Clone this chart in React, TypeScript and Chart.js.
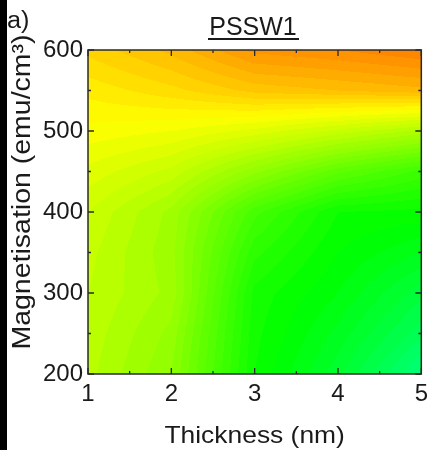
import React, { useEffect, useRef } from "react";
import { Chart, registerables } from "chart.js";

Chart.register(...registerables);

// Grid of the contour data: thickness (nm) columns, magnetisation (emu/cm3) rows
const thicknessNm = [1, 2, 3, 4, 5];
const magnetisation = [200, 250, 300, 350, 400, 450, 500, 550, 600];
// Colour-map value (hue, degrees) read at each grid node, one array per magnetisation row
const hueAt200 = [77, 87, 117, 131, 148];
const hueAt250 = [76, 85, 116, 127, 140];
const hueAt300 = [75, 82, 115, 123, 134];
const hueAt350 = [74, 83, 110, 120, 126];
const hueAt400 = [72, 82, 104, 117, 118];
const hueAt450 = [67, 73, 86, 98, 106];
const hueAt500 = [61, 63, 67, 73, 79];
const hueAt550 = [56, 52, 47, 45, 43];
const hueAt600 = [50, 44, 35, 33, 30];
const hueRows = [hueAt200, hueAt250, hueAt300, hueAt350, hueAt400, hueAt450, hueAt500, hueAt550, hueAt600];

const xMajorTicks = [1, 2, 3, 4, 5];
const xMinorTicks = [1.5, 2.5, 3.5, 4.5];
const yMajorTicks = [200, 300, 400, 500, 600];
const yMinorTicks = [250, 350, 450, 550];

const panelLabel = "a)";
const chartTitle = "PSSW1";
const xTitle = "Thickness (nm)";
const yTitle = "Magnetisation (emu/cm³)";

const FONT = "'Liberation Sans', Arial, sans-serif";
const TEXT = "#1a1a1a";
const LEVEL_STEP = 3;

function hueToRgb(h: number): [number, number, number] {
  const hh = ((h % 360) + 360) % 360 / 60;
  const x = 1 - Math.abs((hh % 2) - 1);
  let r = 0, g = 0, b = 0;
  if (hh < 1) { r = 1; g = x; }
  else if (hh < 2) { r = x; g = 1; }
  else if (hh < 3) { g = 1; b = x; }
  else if (hh < 4) { g = x; b = 1; }
  else if (hh < 5) { r = x; b = 1; }
  else { r = 1; b = x; }
  return [Math.round(r * 255), Math.round(g * 255), Math.round(b * 255)];
}

function locate(arr: number[], v: number): [number, number] {
  if (v <= arr[0]) return [0, 0];
  if (v >= arr[arr.length - 1]) return [arr.length - 2, 1];
  for (let i = 0; i < arr.length - 1; i++) {
    if (v >= arr[i] && v <= arr[i + 1]) return [i, (v - arr[i]) / (arr[i + 1] - arr[i])];
  }
  return [0, 0];
}

function fieldAt(xv: number, yv: number): number {
  const [i, tx] = locate(thicknessNm, xv);
  const [j, ty] = locate(magnetisation, yv);
  const a = hueRows[j][i], b = hueRows[j][i + 1];
  const c = hueRows[j + 1][i], d = hueRows[j + 1][i + 1];
  return (a * (1 - tx) + b * tx) * (1 - ty) + (c * (1 - tx) + d * tx) * ty;
}

const contourPlugin = {
  id: "contourFill",
  beforeDatasetsDraw(chart: any) {
    const { ctx, chartArea, scales } = chart;
    const w = Math.round(chartArea.right - chartArea.left);
    const h = Math.round(chartArea.bottom - chartArea.top);
    const off = document.createElement("canvas");
    off.width = w; off.height = h;
    const octx = off.getContext("2d")!;
    const img = octx.createImageData(w, h);
    for (let py = 0; py < h; py++) {
      const yv = scales.y.getValueForPixel(chartArea.top + py + 0.5);
      for (let px = 0; px < w; px++) {
        const xv = scales.x.getValueForPixel(chartArea.left + px + 0.5);
        const val = fieldAt(xv, yv);
        const q = Math.floor(val / LEVEL_STEP) * LEVEL_STEP + LEVEL_STEP / 2;
        const [r, g, b] = hueToRgb(q);
        const k = (py * w + px) * 4;
        img.data[k] = r; img.data[k + 1] = g; img.data[k + 2] = b; img.data[k + 3] = 255;
      }
    }
    octx.putImageData(img, 0, 0);
    ctx.drawImage(off, chartArea.left, chartArea.top);
  },
};

function stretchedText(ctx: CanvasRenderingContext2D, text: string, x: number, y: number, size: number, sx: number, align: CanvasTextAlign, rot = 0) {
  ctx.save();
  ctx.translate(x, y);
  if (rot) ctx.rotate(rot);
  ctx.scale(sx, 1);
  ctx.font = `${size}px ${FONT}`;
  ctx.fillStyle = TEXT;
  ctx.textAlign = align;
  ctx.textBaseline = "alphabetic";
  ctx.fillText(text, 0, 0);
  ctx.restore();
}

const framePlugin = {
  id: "frameAndTexts",
  afterDraw(chart: any) {
    const { ctx, chartArea, scales } = chart;
    const { left, right, top, bottom } = chartArea;
    ctx.save();
    ctx.strokeStyle = "#2a2a2a";
    ctx.lineWidth = 1.5;
    ctx.strokeRect(left, top, right - left, bottom - top);
    ctx.lineWidth = 1.3;
    ctx.beginPath();
    const tickX = (vals: number[], len: number) => {
      vals.forEach((v) => {
        const p = scales.x.getPixelForValue(v);
        ctx.moveTo(p, bottom); ctx.lineTo(p, bottom - len);
        ctx.moveTo(p, top); ctx.lineTo(p, top + len);
      });
    };
    const tickY = (vals: number[], len: number) => {
      vals.forEach((v) => {
        const p = scales.y.getPixelForValue(v);
        ctx.moveTo(left, p); ctx.lineTo(left + len, p);
        ctx.moveTo(right, p); ctx.lineTo(right - len, p);
      });
    };
    tickX(xMajorTicks, 6); tickX(xMinorTicks, 3);
    tickY(yMajorTicks, 6); tickY(yMinorTicks, 3);
    ctx.stroke();

    // black strip at the left edge (neighbouring panel)
    ctx.fillStyle = "#000";
    ctx.fillRect(0, 0, 7, 450);

    stretchedText(ctx, panelLabel, 7, 28, 23, 1.1, "left");
    stretchedText(ctx, chartTitle, 253, 35, 25, 1.0, "center");
    ctx.fillStyle = TEXT;
    ctx.fillRect(208, 38, 91, 2);
    stretchedText(ctx, xTitle, (left + right) / 2, 443, 24, 1.1, "center");
    stretchedText(ctx, yTitle, 30, 192, 25, 1.14, "center", -Math.PI / 2);
    ctx.restore();
  },
};

export default function App() {
  const ref = useRef<HTMLCanvasElement>(null);
  useEffect(() => {
    const points: { x: number; y: number }[] = [];
    magnetisation.forEach((m) => thicknessNm.forEach((t) => points.push({ x: t, y: m })));
    const chart = new Chart(ref.current!, {
      type: "scatter",
      data: { datasets: [{ data: points, pointRadius: 0, pointHoverRadius: 0, showLine: false }] },
      options: {
        animation: false,
        responsive: false,
        events: [],
        layout: { padding: { top: 50, right: 6, left: 0, bottom: 0 } },
        plugins: { legend: { display: false }, tooltip: { enabled: false }, title: { display: false } },
        scales: {
          x: {
            type: "linear",
            min: 1,
            max: 5,
            afterFit: (s: any) => { s.height = 89; },
            afterBuildTicks: (s: any) => { s.ticks = xMajorTicks.map((v) => ({ value: v })); },
            grid: { display: false, drawTicks: false },
            border: { display: false },
            ticks: { padding: 6, color: TEXT, font: { family: FONT, size: 24 }, maxRotation: 0, autoSkip: false },
          },
          y: {
            type: "linear",
            min: 200,
            max: 600,
            afterFit: (s: any) => { s.width = 88; },
            afterBuildTicks: (s: any) => { s.ticks = yMajorTicks.map((v) => ({ value: v })); },
            grid: { display: false, drawTicks: false },
            border: { display: false },
            ticks: { padding: 5, color: TEXT, font: { family: FONT, size: 24 }, autoSkip: false },
          },
        },
      },
      plugins: [contourPlugin, framePlugin],
    });
    return () => chart.destroy();
  }, []);
  return (
    <div style={{ position: "fixed", left: 0, top: 0, width: 434, height: 463, background: "#fff" }}>
      <canvas ref={ref} width={434} height={463} style={{ display: "block", width: 434, height: 463 }} />
    </div>
  );
}
